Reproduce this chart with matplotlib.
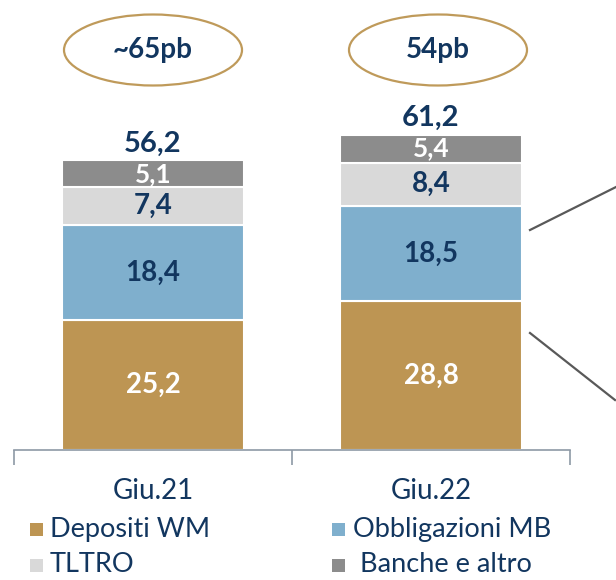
import matplotlib
matplotlib.use("Agg")
import matplotlib.pyplot as plt
from matplotlib.patches import Ellipse, Rectangle
from matplotlib.lines import Line2D

categories = ["Giu.21", "Giu.22"]
series_names = ["Depositi WM", "Obbligazioni MB", "TLTRO", "Banche e altro"]
depositi = [25.2, 28.8]
obbligazioni = [18.4, 18.5]
tltro = [7.4, 8.4]
banche = [5.1, 5.4]
totals = [56.2, 61.2]
spread_labels = ["~65pb", "54pb"]

colors = ["#BD9553", "#7FAFCD", "#D9D9D9", "#8C8C8C"]
label_colors = ["white", "#12365F", "#12365F", "white"]
navy = "#12365F"
FONT = "Lato"

W, H = 616, 580
fig = plt.figure(figsize=(W / 100, H / 100), dpi=100)

base_px = 450
left_px, right_px = 14, 570
ax = fig.add_axes([left_px / W, (H - base_px) / H, (right_px - left_px) / W, base_px / H])
ax.set_xlim(-0.5, 1.5)
ax.set_ylim(0, 87.2)

x = [0, 1]
series = [depositi, obbligazioni, tltro, banche]
bottoms = [0.0, 0.0]
bw = 0.655
for vals, col, lc in zip(series, colors, label_colors):
    ax.bar(x, vals, bw, bottom=bottoms, color=col, edgecolor="white", linewidth=1.5, zorder=2)
    for xi, v, b in zip(x, vals, bottoms):
        fs = 19 if v < 6 else 20
        ax.text(xi, b + v / 2, f"{v:.1f}".replace(".", ","), ha="center", va="center",
                color=lc, fontsize=fs, fontweight="bold", family=FONT)
    bottoms = [b + v for b, v in zip(bottoms, vals)]

for xi, t in zip(x, totals):
    ax.text(xi, t + 0.6, f"{t:.1f}".replace(".", ","), ha="center", va="bottom",
            color=navy, fontsize=21, fontweight="bold", family=FONT)

for s in ["top", "right", "left"]:
    ax.spines[s].set_visible(False)
ax.spines["bottom"].set_color("#8E99A6")
ax.spines["bottom"].set_linewidth(1.2)
ax.set_yticks([])
ax.set_xticks(x)
ax.set_xticklabels(categories, fontsize=20, color=navy, family=FONT)
ax.tick_params(axis="x", which="major", length=0, pad=20)
ax.set_xticks([-0.5, 0.5, 1.5], minor=True)
ax.tick_params(axis="x", which="minor", length=11, width=1.2, color="#8E99A6", direction="out")

# spread ellipses
for cx, lab in zip([153, 438], spread_labels):
    e = Ellipse((cx / W, 1 - 50 / H), 178 / W, 71 / H, transform=fig.transFigure,
                fill=False, edgecolor="#BF9A5A", linewidth=1.6)
    fig.add_artist(e)
    fig.text(cx / W, 1 - 50 / H, lab, ha="center", va="center", color=navy,
             fontsize=20, fontweight="bold", family=FONT)

# connector lines on the right
for (x0, y0), (x1, y1) in [((530, 230), (616, 187)), ((530, 333), (615, 400))]:
    fig.add_artist(Line2D([x0 / W, x1 / W], [1 - y0 / H, 1 - y1 / H], transform=fig.transFigure,
                          color="#595959", linewidth=1.6))

# legend
legend_pos = [(30, 529), (332, 529), (30, 565), (332, 565)]
text_x = [50, 353, 50, 360]
for (px, py), tx, name, col in zip(legend_pos, text_x, series_names, colors):
    fig.add_artist(Rectangle((px / W, 1 - (py + 7) / H), 13 / W, 13 / H,
                             transform=fig.transFigure, facecolor=col, edgecolor="none"))
    fig.text(tx / W, 1 - py / H, name, ha="left", va="center", color=navy,
             fontsize=19.5, family=FONT)

fig.savefig("out.png", dpi=100)
